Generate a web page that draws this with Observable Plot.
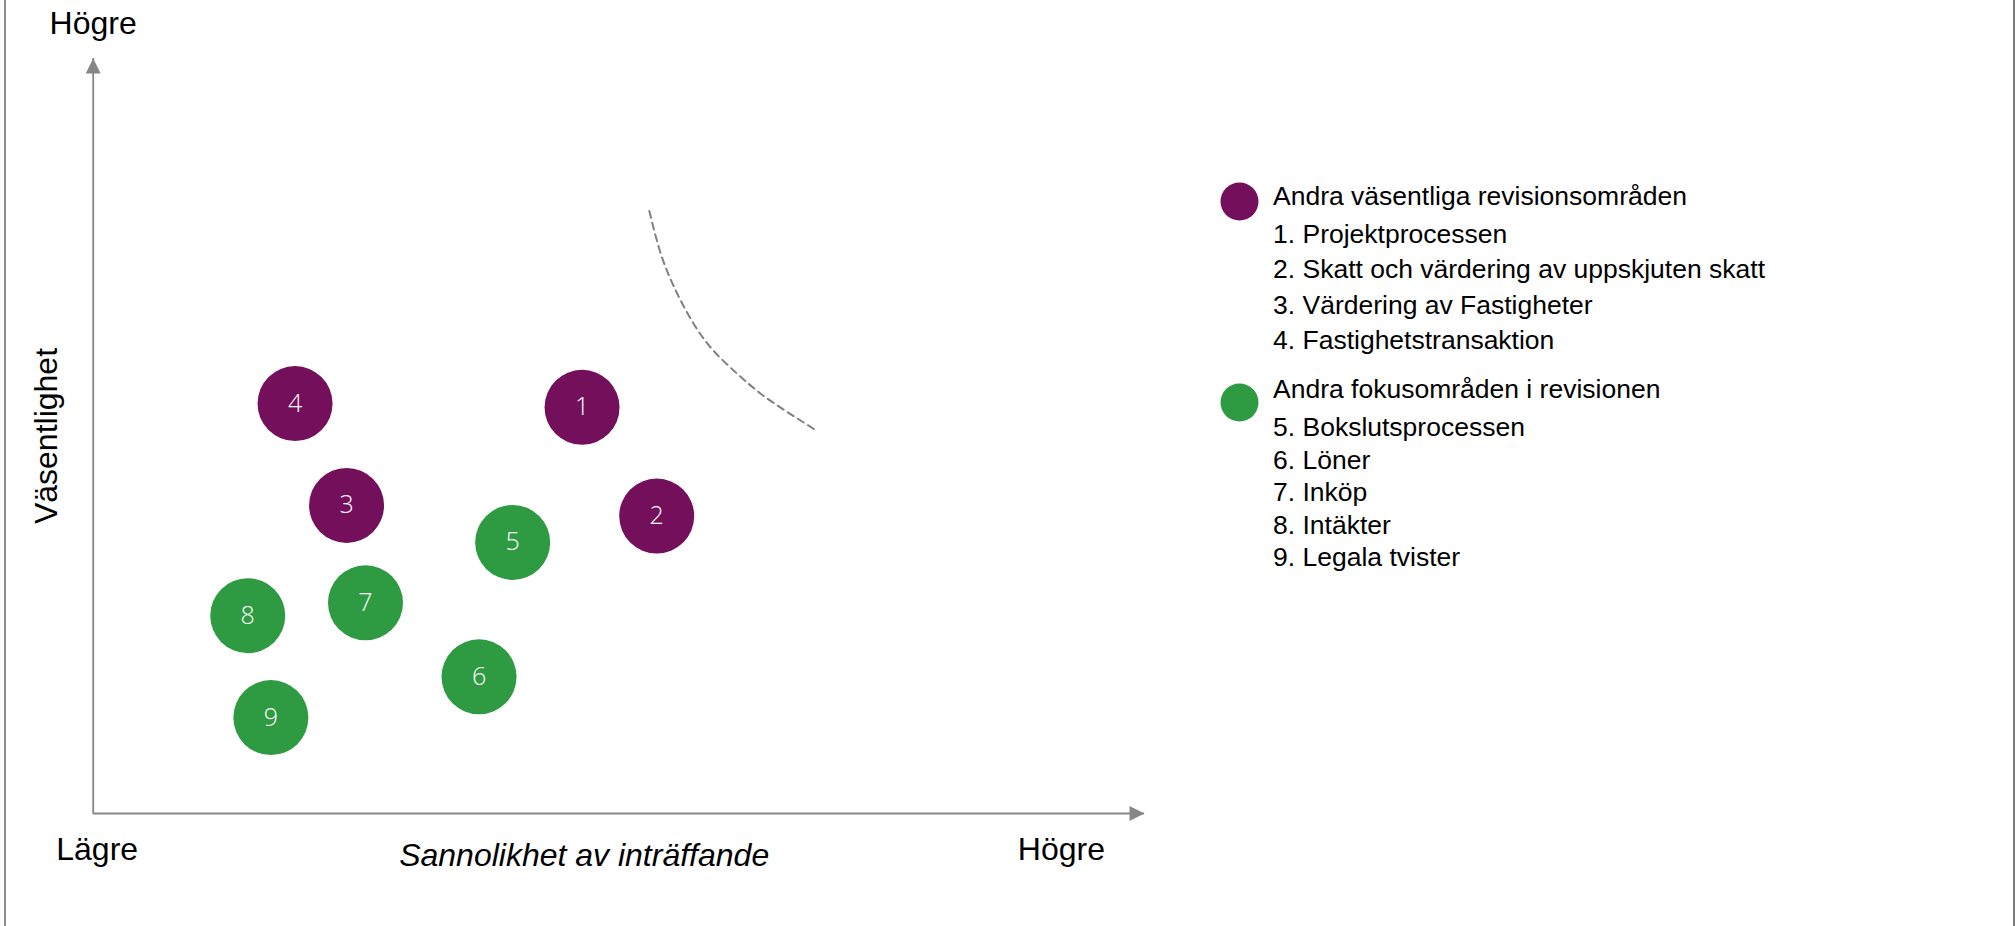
<!DOCTYPE html>
<html>
<head>
<meta charset="utf-8">
<script src="https://cdn.jsdelivr.net/npm/d3@7"></script>
<script src="https://cdn.jsdelivr.net/npm/@observablehq/plot@0.6"></script>
<style>
  html, body { margin: 0; padding: 0; background: #ffffff; }
  #wrap { position: relative; width: 2015px; height: 926px; overflow: hidden; }
  #chart, #legend { position: absolute; left: 0; top: 0; }
  #frame { position: absolute; left: 4px; top: 0; width: 2011px; height: 926px; box-sizing: border-box;
           border-left: 2px solid #8c8c8c; border-right: 2px solid #7c7c7c; pointer-events: none; }
</style>
</head>
<body>
<div id="wrap">
  <div id="chart"></div>
  <svg id="legend" width="2015" height="926"></svg>
  <div id="frame"></div>
</div>
<script>
// ---- data ----
const groups = ["Andra väsentliga revisionsområden", "Andra fokusområden i revisionen"];
const itemIds = [1, 2, 3, 4, 5, 6, 7, 8, 9];
const itemLabels = [
  "Projektprocessen",
  "Skatt och värdering av uppskjuten skatt",
  "Värdering av Fastigheter",
  "Fastighetstransaktion",
  "Bokslutsprocessen",
  "Löner",
  "Inköp",
  "Intäkter",
  "Legala tvister"
];
const itemGroup = [0, 0, 0, 0, 1, 1, 1, 1, 1];
// Sannolikhet av inträffande (0 = lägre, 10 = högre)
const likelihood = [4.65, 5.36, 2.41, 1.92, 3.99, 3.67, 2.59, 1.47, 1.69];
// Väsentlighet (0 = lägre, 10 = högre)
const materiality = [5.38, 3.94, 4.08, 5.43, 3.59, 1.81, 2.79, 2.62, 1.27];
// dashed threshold curve
const thresholdX = [5.29, 5.40, 5.54, 5.71, 5.90, 6.13, 6.35, 6.60, 6.87];
const thresholdY = [7.98, 7.41, 6.93, 6.49, 6.13, 5.82, 5.56, 5.32, 5.08];
// axis texts
const xTickLabels = ["Lägre", "Högre"];
const yTickLabels = ["Högre"];
const xTitle = "Sannolikhet av inträffande";
const yTitle = "Väsentlighet";

// ---- styles ----
const groupColors = ["#730f5b", "#2e9a42"];
const axisColor = "#878787";
const font = "'Liberation Sans', Arial, sans-serif";
const bubbleFont = "'Open Sans', 'Liberation Sans', Arial, sans-serif";

const items = itemIds.map((id, i) => ({
  id, label: itemLabels[i], group: groups[itemGroup[i]], x: likelihood[i], y: materiality[i]
}));
const threshold = thresholdX.map((x, i) => ({x, y: thresholdY[i]}));

// filled arrowheads with the tip at the anchor point
const arrowUp = {draw(ctx, size) { const r = Math.sqrt(size / Math.PI); ctx.moveTo(0, 0); ctx.lineTo(r, 2 * r); ctx.lineTo(-r, 2 * r); ctx.closePath(); }};
const arrowRight = {draw(ctx, size) { const r = Math.sqrt(size / Math.PI); ctx.moveTo(0, 0); ctx.lineTo(-2 * r, r); ctx.lineTo(-2 * r, -r); ctx.closePath(); }};

const chart = Plot.plot({
  width: 2015,
  height: 926,
  marginLeft: 92.7,
  marginRight: 871,
  marginTop: 58,
  marginBottom: 113,
  x: {domain: [0, 10], axis: null},
  y: {domain: [0, 10], axis: null},
  color: {domain: groups, range: groupColors},
  style: {fontFamily: font, background: "transparent", overflow: "visible"},
  marks: [
    Plot.ruleY([0], {x1: 0, x2: 10, stroke: axisColor, strokeWidth: 1.8}),
    Plot.ruleX([0], {y1: 0, y2: 10, stroke: axisColor, strokeWidth: 1.8}),
    Plot.dot([0], {x: 0, y: 10, symbol: arrowUp, r: 7.5, fill: axisColor, stroke: "none"}),
    Plot.dot([0], {x: 10, y: 0, symbol: arrowRight, r: 7.5, fill: axisColor, stroke: "none"}),
    Plot.line(threshold, {x: "x", y: "y", curve: "natural", stroke: "#808080", strokeWidth: 2, strokeDasharray: "7,5"}),
    Plot.dot(items, {x: "x", y: "y", r: 37.5, fill: "group", stroke: "none"}),
    Plot.text(items, {x: "x", y: "y", text: d => String(d.id), fill: "white", fontSize: 25, fontWeight: 300, fontFamily: bubbleFont, lineAnchor: "middle"}),
    // axis texts
    Plot.text([yTickLabels[0]], {x: 0, y: 10, dy: -25, text: d => d, fontSize: 32, fill: "black", textAnchor: "middle", lineAnchor: "bottom"}),
    Plot.text([xTickLabels[0]], {x: 0, y: 0, dx: 4, dy: 46, text: d => d, fontSize: 32, fill: "black", textAnchor: "middle", lineAnchor: "bottom"}),
    Plot.text([xTickLabels[1]], {x: 9.21, y: 0, dy: 46, text: d => d, fontSize: 32, fill: "black", textAnchor: "middle", lineAnchor: "bottom"}),
    Plot.text([xTitle], {x: 4.67, y: 0, dy: 52, text: d => d, fontSize: 32, fontStyle: "italic", fill: "black", textAnchor: "middle", lineAnchor: "bottom"}),
    Plot.text([yTitle], {x: 0, y: 5, dx: -35.7, text: d => d, fontSize: 32, fill: "black", rotate: -90, textAnchor: "middle", lineAnchor: "bottom"})
  ]
});
document.getElementById("chart").appendChild(chart);

// ---- legend ----
const legend = d3.select("#legend").style("font-family", font);
const legendLayout = [
  {circleY: 201.5, headerY: 205, itemStart: 243, itemStep: 35.3},
  {circleY: 402.5, headerY: 398, itemStart: 436, itemStep: 32.6}
];
groups.forEach((g, gi) => {
  const L = legendLayout[gi];
  legend.append("circle").attr("cx", 1239.5).attr("cy", L.circleY).attr("r", 19).attr("fill", groupColors[gi]);
  legend.append("text").attr("x", 1273).attr("y", L.headerY).attr("font-size", 26.5).attr("fill", "#000").text(g);
  items.filter(d => d.group === g).forEach((d, k) => {
    legend.append("text").attr("x", 1273).attr("y", L.itemStart + k * L.itemStep)
      .attr("font-size", 26.5).attr("fill", "#000").text(`${d.id}. ${d.label}`);
  });
});
</script>
</body>
</html>
